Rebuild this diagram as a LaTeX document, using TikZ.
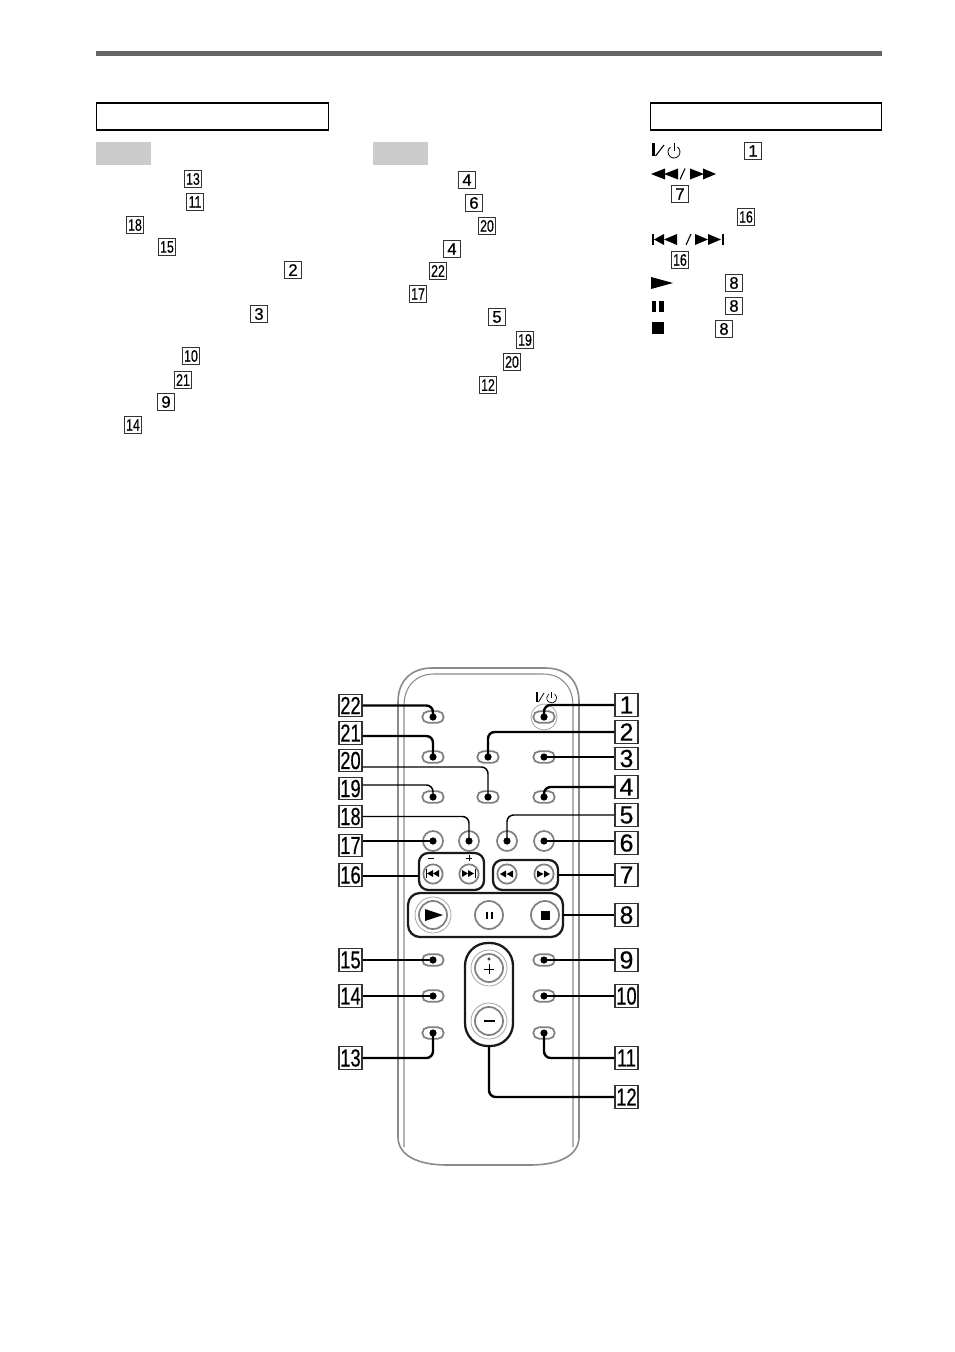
\documentclass[tikz,border=0pt]{standalone}
\usepackage{fontspec}
\setmainfont{Liberation Sans}
\newfontfamily\numf[FakeBold=0.6]{Liberation Sans}
\definecolor{btn}{HTML}{808080}
\definecolor{body}{HTML}{8A8A8A}
\definecolor{rule}{HTML}{666666}
\definecolor{tag}{HTML}{CCCCCC}
\newcommand\xnarrow[1]{\scalebox{0.74}[1]{#1}}
\newcommand\trir[4]{\fill ({#1},{#2-#4/2}) -- ({#1+#3},{#2}) -- ({#1},{#2+#4/2}) -- cycle;}
\newcommand\tril[4]{\fill ({#1},{#2-#4/2}) -- ({#1-#3},{#2}) -- ({#1},{#2+#4/2}) -- cycle;}
\newcommand\barr[4]{\fill ({#1},{#2}) rectangle ({#3},{#4});}
\tikzset{
  x=0.75pt,y=-0.75pt,
  biglabel/.style={draw=black!80,line width=0.85pt,fill=white,minimum width=17.2pt,minimum height=17pt,inner sep=0pt,font=\numf\fontsize{18.5}{18.5}\selectfont},
  smalllabel/.style={draw=black!80,line width=0.7pt,minimum width=12.8pt,minimum height=12.8pt,inner sep=0pt,font=\numf\fontsize{12.5}{12.5}\selectfont},
  oval/.style={draw=btn,line width=1.3pt,minimum width=16pt,minimum height=8.5pt,inner sep=0pt,rounded corners=4.2pt},
  roundbtn/.style={draw=btn,circle,line width=1.3pt,minimum size=15pt,inner sep=0pt},
  midbtn/.style={draw=btn,circle,line width=1.3pt,minimum size=21pt,inner sep=0pt},
  smallbtn/.style={draw=btn,circle,line width=1.3pt,minimum size=14.5pt,inner sep=0pt},
  ring/.style={btn!70,line width=0.6pt},
  group/.style={draw=black!90,line width=1.7pt,inner sep=0pt},
  heavy/.style={black,line width=1.8pt,rounded corners=5pt},
  light/.style={black,line width=1.1pt,rounded corners=5pt},
  bodyline/.style={draw=body},
  headbox/.style={draw=black,line width=1.1pt,minimum height=20pt,inner sep=0pt}
}
\begin{document}
\begin{tikzpicture}
\useasboundingbox (0,0) rectangle (954,1352);
% page furniture
\fill[rule] (96,51) rectangle (882,56);
\node[headbox,minimum width=173.8pt] (headA) at (212.5,116.5) {};
\node[headbox,minimum width=173.5pt] (headB) at (766,116.5) {};
\fill[tag] (96,142) rectangle (151,165);
\fill[tag] (373,142) rectangle (428,165);
% text-area number boxes
\foreach \n/\t/\px/\py in {a13/13/193/179,a11/11/195/202,a18/18/135/225,a15/15/167/247,a10/10/191/356,a21/21/183/380,a14/14/133/425,
 m20/20/487/226,m22/22/438/271,m17/17/418/294,m19/19/525/340,mm20/20/512/362,m12/12/488/385,
 r16/16/746/217,rr16/16/680/260}
  \node[smalllabel] (s\n) at (\px,\py) {\xnarrow{\t}};
\foreach \n/\t/\px/\py in {a2/2/293/270,a3/3/259/314,a9/9/166/402,
 m4/4/467/180,m6/6/474/203,mm4/4/452/249,m5/5/497/317,
 r1/1/753/151,r7/7/680/194,r8/8/734/283,rr8/8/734/306,rrr8/8/724/329}
  \node[smalllabel] (s\n) at (\px,\py) {\t};
% header symbols
\barr{652}{143}{654.5}{156}
\draw[line width=0.8pt] (655.5,156) -- (664,145);
\draw[line width=0.6pt] (677.4,147.1) arc[start angle=-55,end angle=235,radius=6];
\draw[line width=0.6pt] (674,143) -- (674,151);
\tril{665}{174}{14}{11}\tril{678}{174}{14}{11}
\draw[line width=0.8pt] (680,179.5) -- (685,168.5);
\trir{690}{174}{14}{11}\trir{703}{174}{13}{11}
\barr{652}{234}{654}{245}\tril{664}{239.5}{10}{11}\tril{677}{239.5}{13}{11}
\draw[line width=0.8pt] (686,245) -- (691,234);
\trir{695}{239.5}{13}{11}\trir{708}{239.5}{13}{11}\barr{722}{234}{724}{245}
\trir{651}{283}{22}{12}
\barr{651.5}{301}{656}{312}\barr{659}{301}{664}{312}
\barr{651.5}{322}{664}{334}
% remote body
\draw[bodyline,line width=1.2pt] (398,1137) -- (398,702) .. controls (398,680) and (412,668) .. (432,668)
  -- (545,668) .. controls (566,668) and (579,680) .. (579,702) -- (579,1137)
  .. controls (579,1155) and (560,1165) .. (530,1165) -- (447,1165)
  .. controls (417,1165) and (398,1155) .. (398,1137);
\draw[bodyline,line width=0.8pt] (404,1147) -- (404,706) .. controls (404,686) and (416,674) .. (434,674)
  -- (543,674) .. controls (561,674) and (573,686) .. (573,706) -- (573,1147);
% buttons
\foreach \n/\px/\py in {b22/433/717,b1/544/717,b21/433/757,b2/488/757,b3/544/757,b19/433/797,b20/488/797,b4/544/797,
 b15/433/960,b9/544/960,b14/433/996,b10/544/996,b13/433/1033,b11/544/1033}
  \node[oval] (\n) at (\px,\py) {};
\draw[ring] (b1.center) circle[radius=13];
\foreach \n/\px in {b17/433,b18/469,b5/507,b6/544}
  \node[roundbtn] (\n) at (\px,841) {};
\foreach \n/\px in {s1/433,s2/469,s3/507,s4/544}
  \node[smallbtn] (\n) at (\px,874) {};
\node[midbtn] (pause) at (489,915) {};
\node[midbtn] (stop) at (545,915) {};
\node[midbtn] (play) at (433,915) {};
\draw[ring] (play.center) circle[radius=18];
\node[midbtn] (plus) at (489,968) {};
\draw[ring] (plus.center) circle[radius=18];
\node[midbtn] (minus) at (489,1021) {};
\draw[ring] (minus.center) circle[radius=18];
% button symbols
\barr{425.5}{869}{427}{878}\tril{433}{873.5}{6}{7}\tril{439}{873.5}{6}{7}
\trir{462}{873.5}{6}{7}\trir{468}{873.5}{6}{7}\barr{474.5}{869}{476}{878}
\tril{506}{874}{6}{7}\tril{513}{874}{6.5}{7}
\trir{537}{874}{6.5}{7}\trir{544}{874}{6}{7}
\trir{425}{915}{18}{12}
\barr{485.5}{911.5}{488}{919}\barr{490.5}{911.5}{493}{919}
\barr{540.5}{910.5}{549.5}{919.5}
\draw[line width=0.6pt] (484,969) -- (494,969) (489,964) -- (489,974);
\draw[line width=0.4pt] (489,959) circle[radius=1.2];
\draw[line width=0.9pt] (483.5,1021) -- (494.5,1021);
\draw[line width=0.6pt] (428,858) -- (434,858) (466,858) -- (472,858) (469,855) -- (469,861);
% power mark above button
\barr{536}{692}{537.7}{702}
\draw[line width=0.6pt] (538.5,702) -- (544,693);
\draw[line width=0.5pt] (554.6,693.9) arc[start angle=-55,end angle=235,radius=5];
\draw[line width=0.5pt] (551.7,691.5) -- (551.7,698);
% group outlines
\draw[group,rounded corners=7pt] (419,853) rectangle (484,890);
\draw[group,rounded corners=7pt] (493,860) rectangle (558,890);
\draw[group,rounded corners=9pt] (408,893) rectangle (563,937);
\draw[group,rounded corners=17pt] (465,943) rectangle (513,1046);
\coordinate (g16) at (419,876);
\coordinate (g7) at (558,875);
\coordinate (g8) at (563,915);
\coordinate (g12) at (489,1046);
% labels right
\node[biglabel] (l1) at (626.5,705) {1};
\node[biglabel] (l2) at (626.5,732) {2};
\node[biglabel] (l3) at (626.5,758.5) {3};
\node[biglabel] (l4) at (626.5,787) {4};
\node[biglabel] (l5) at (626.5,815) {5};
\node[biglabel] (l6) at (626.5,843) {6};
\node[biglabel] (l7) at (626.5,875) {7};
\node[biglabel] (l8) at (626.5,915) {8};
\node[biglabel] (l9) at (626.5,960) {9};
\node[biglabel] (l10) at (626.5,996) {\xnarrow{10}};
\node[biglabel] (l11) at (626.5,1058) {\xnarrow{11}};
\node[biglabel] (l12) at (626.5,1097) {\xnarrow{12}};
% labels left
\node[biglabel] (l22) at (350.5,705.5) {\xnarrow{22}};
\node[biglabel] (l21) at (350.5,733) {\xnarrow{21}};
\node[biglabel] (l20) at (350.5,760.5) {\xnarrow{20}};
\node[biglabel] (l19) at (350.5,788.5) {\xnarrow{19}};
\node[biglabel] (l18) at (350.5,816.5) {\xnarrow{18}};
\node[biglabel] (l17) at (350.5,845.5) {\xnarrow{17}};
\node[biglabel] (l16) at (350.5,875) {\xnarrow{16}};
\node[biglabel] (l15) at (350.5,960) {\xnarrow{15}};
\node[biglabel] (l14) at (350.5,996) {\xnarrow{14}};
\node[biglabel] (l13) at (350.5,1058) {\xnarrow{13}};
% connectors
\draw[heavy] (l1.west) -| (b1.center);
\draw[heavy] (l2.west) -| (b2.center);
\draw[heavy] (l3.west |- b3.center) -- (b3.center);
\draw[heavy] (l4.west) -| (b4.center);
\draw[light] (l5.west) -| (b5.center);
\draw[heavy] (l6.west |- b6.center) -- (b6.center);
\draw[heavy] (l7.west) -- (g7);
\draw[heavy] (l8.west) -- (g8);
\draw[light] (l9.west) -- (b9.center);
\draw[heavy] (l10.west) -- (b10.center);
\draw[heavy] (l11.west) -| (b11.center);
\draw[heavy] (l12.west) -| (g12);
\draw[heavy] (l22.east) -| (b22.center);
\draw[heavy] (l21.east |- 0,736) -| (b21.center);
\draw[light] (l20.east |- 0,767) -| (b20.center);
\draw[light] (l19.east |- 0,785) -| (b19.center);
\draw[light] (l18.east) -| (b18.center);
\draw[heavy] (l17.east |- b17.center) -- (b17.center);
\draw[heavy] (l16.east |- g16) -- (g16);
\draw[light] (l15.east) -- (b15.center);
\draw[heavy] (l14.east) -- (b14.center);
\draw[heavy] (l13.east) -| (b13.center);
\foreach \n in {b1,b2,b3,b4,b5,b6,b9,b10,b11,b13,b14,b15,b17,b18,b19,b20,b21,b22}
  \fill (\n.center) circle[radius=3.6];
\end{tikzpicture}
\end{document}
